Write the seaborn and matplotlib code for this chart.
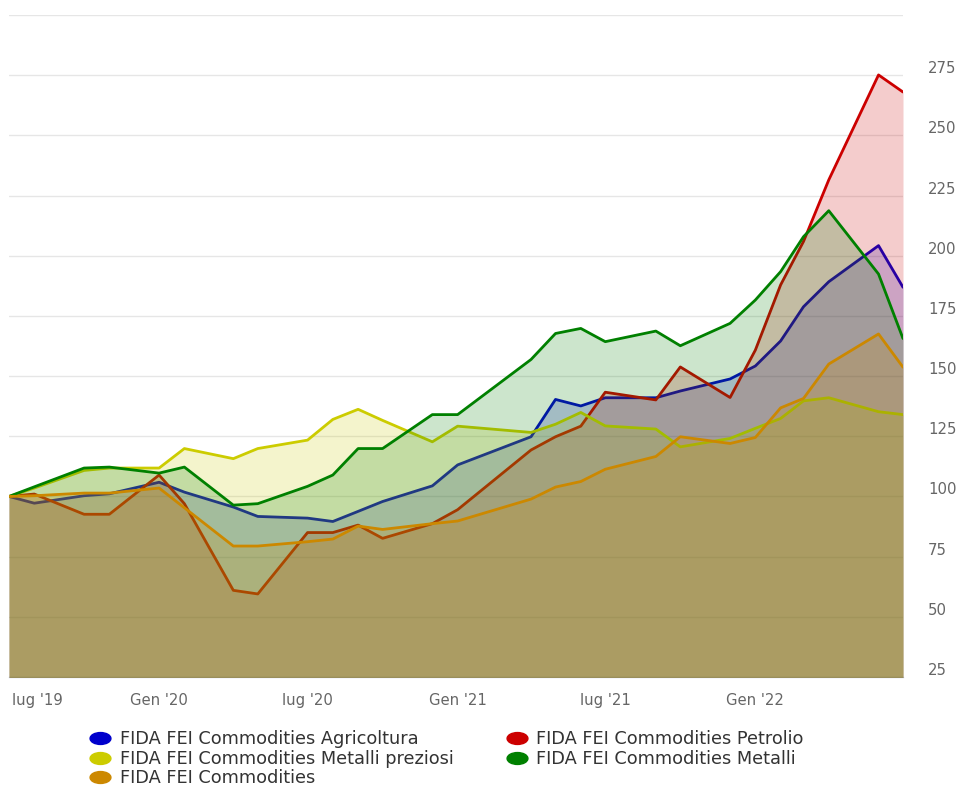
import numpy as np
import pandas as pd
import matplotlib
matplotlib.use("Agg")
import matplotlib.pyplot as plt
import matplotlib.dates as mdates
from matplotlib.lines import Line2D
from matplotlib.path import Path
from matplotlib.transforms import Affine2D, ScaledTranslation
import seaborn as sns

# ---------------- data ----------------
dates = ["2019-07-01", "2019-08-01", "2019-10-01", "2019-11-01", "2020-01-01",
         "2020-02-01", "2020-04-01", "2020-05-01", "2020-07-01", "2020-08-01",
         "2020-09-01", "2020-10-01", "2020-12-01", "2021-01-01", "2021-04-01",
         "2021-05-01", "2021-06-01", "2021-07-01", "2021-09-01", "2021-10-01",
         "2021-12-01", "2022-01-01", "2022-02-01", "2022-03-01", "2022-04-01",
         "2022-06-01", "2022-07-01"]

agricoltura = [100, 97.2, 100.3, 101.1, 105.9, 101.8, 95.6, 91.7, 91.0, 89.6,
               93.8, 97.9, 104.4, 113.1, 124.8, 140.3, 137.6, 141.0, 141.0, 143.8,
               148.8, 154.2, 164.6, 178.8, 189.2, 204.2, 186.9]
petrolio = [100, 101.0, 92.6, 92.6, 108.9, 97.0, 61.0, 59.5, 85.0, 85.0,
            88.1, 82.6, 88.7, 94.5, 119.3, 124.8, 129.2, 143.3, 140.1, 153.8,
            141.1, 160.8, 187.9, 205.9, 231.5, 275.1, 268.0]
metalli_preziosi = [100, 103.5, 110.8, 111.8, 111.8, 119.9, 115.7, 119.9, 123.4, 132.0,
                    136.2, 131.6, 122.7, 129.2, 126.6, 130.0, 134.9, 129.3, 128.0, 120.6,
                    124.1, 128.3, 132.4, 139.7, 141.0, 135.2, 134.0]
metalli = [100, 104.0, 111.8, 112.2, 109.7, 112.2, 96.4, 97.0, 104.2, 108.9,
           119.9, 119.9, 134.0, 134.0, 156.9, 167.7, 169.8, 164.3, 168.7, 162.6,
           171.9, 181.6, 193.4, 207.9, 218.7, 192.4, 165.6]
commodities = [100, 100.3, 101.4, 101.4, 103.5, 95.3, 79.4, 79.4, 81.2, 82.3,
               87.7, 86.3, 88.7, 89.8, 98.9, 103.9, 106.2, 111.3, 116.6, 124.8,
               122.0, 124.5, 136.8, 140.7, 155.0, 167.5, 153.7]

series_names = ["FIDA FEI Commodities Agricoltura",
                "FIDA FEI Commodities Petrolio",
                "FIDA FEI Commodities Metalli preziosi",
                "FIDA FEI Commodities Metalli",
                "FIDA FEI Commodities"]
series_values = [agricoltura, petrolio, metalli_preziosi, metalli, commodities]
series_colors = ["#0000cc", "#cc0000", "#cccc00", "#008000", "#cc8800"]

x_tick_dates = ["2019-07-01", "2020-01-01", "2020-07-01", "2021-01-01",
                "2021-07-01", "2022-01-01"]
x_tick_labels = ["lug '19", "Gen '20", "lug '20", "Gen '21", "lug '21", "Gen '22"]
y_ticks = [25, 50, 75, 100, 125, 150, 175, 200, 225, 250, 275, 300]
y_tick_labels = ["25", "50", "75", "100", "125", "150", "175", "200", "225",
                 "250", "275", ""]

# ---------------- figure ----------------
sns.set_theme(style="white")
plt.rcParams["font.family"] = ["DejaVu Sans"]

W, H = 961, 786
fig = plt.figure(figsize=(W / 100, H / 100), dpi=100)
fig.patch.set_facecolor("white")
ax = fig.add_axes([9 / W, 1 - 677 / H, 894 / W, 662 / H])
ax.set_facecolor("white")

df = pd.DataFrame({"date": pd.to_datetime(dates)})
for i, (name, vals, col) in enumerate(zip(series_names, series_values, series_colors)):
    df[name] = vals
    ax.fill_between(df["date"], df[name], 0, color=col, alpha=0.2,
                    linewidth=0, zorder=2 + 2 * i)
    sns.lineplot(data=df, x="date", y=name, color=col, linewidth=2.0,
                 ax=ax, zorder=3 + 2 * i, solid_joinstyle="round",
                 solid_capstyle="round")

ax.set_xlim(pd.Timestamp("2019-07-01"), pd.Timestamp("2022-07-01"))
ax.set_ylim(25, 300)
ax.set_xlabel("")
ax.set_ylabel("")

# grid
ax.set_axisbelow(True)
ax.yaxis.grid(True, color="#e6e6e6", linewidth=1)
ax.xaxis.grid(False)

# spines
for s in ["top", "left", "right"]:
    ax.spines[s].set_visible(False)
ax.spines["bottom"].set_color("#ccd6eb")
ax.spines["bottom"].set_linewidth(1)
ax.spines["bottom"].set_zorder(1)

# y axis on right
ax.yaxis.tick_right()
ax.set_yticks(y_ticks)
ax.set_yticklabels(y_tick_labels)
ax.tick_params(axis="y", length=0, pad=18, labelsize=10.7, labelcolor="#666666")
for lab in ax.get_yticklabels():
    lab.set_horizontalalignment("left")
    lab.set_transform(lab.get_transform() + ScaledTranslation(0, 8 / 100, fig.dpi_scale_trans))

# x axis
ax.set_xticks(pd.to_datetime(x_tick_dates))
ax.set_xticklabels(x_tick_labels)
ax.tick_params(axis="x", length=10, width=1, color="#ccd6eb", pad=1.5,
               labelsize=10.7, labelcolor="#666666", direction="out")
xl = ax.get_xticklabels()
xl[0].set_horizontalalignment("left")
xl[0].set_transform(xl[0].get_transform() + ScaledTranslation(3 / 100, 0, fig.dpi_scale_trans))

# legend (ellipse symbols)
ell = Affine2D().scale(1.75, 1.0).transform_path(Path.unit_circle())
order = [0, 2, 4, 1, 3]
handles = [Line2D([], [], linestyle="none", marker=ell, markersize=15,
                  markerfacecolor=series_colors[k], markeredgecolor=series_colors[k])
           for k in order]
labels = [series_names[k] for k in order]
leg = fig.legend(handles, labels, ncol=2, loc="upper left",
                 bbox_to_anchor=(89.5 / W, 1 - 730.5 / H),
                 bbox_transform=fig.transFigure, frameon=False,
                 fontsize=12.8, handlelength=1.2, handletextpad=0.5,
                 columnspacing=2.97, labelspacing=0.07, borderpad=0,
                 borderaxespad=0, labelcolor="#333333")

fig.savefig("out.png", dpi=100, facecolor="white")
